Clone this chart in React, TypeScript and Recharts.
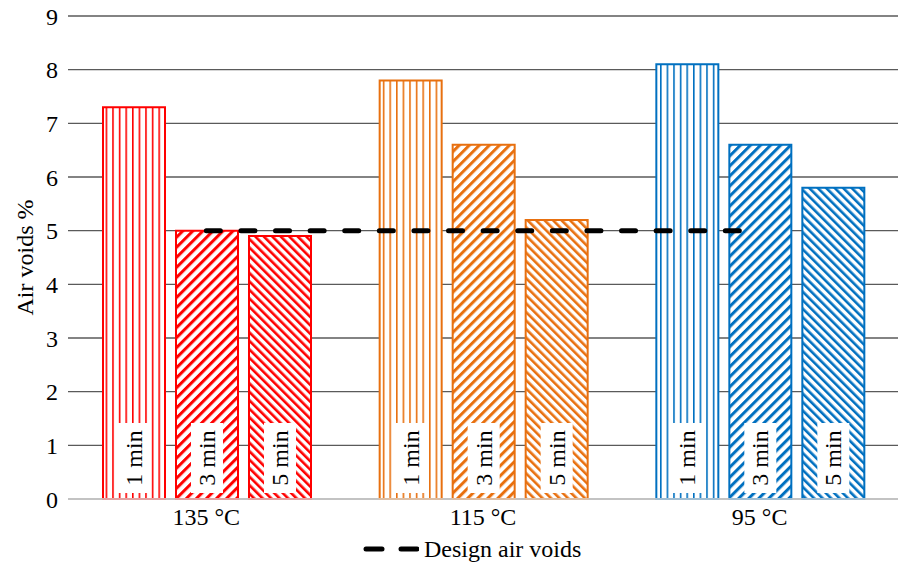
import React from 'react';
import {
  ComposedChart,
  Bar,
  Line,
  XAxis,
  YAxis,
  CartesianGrid,
  Legend,
  Label,
  LabelList,
  Cell,
} from 'recharts';

// values (air voids, %)
const categories = ['135 °C', '115 °C', '95 °C'];
const oneMin = [7.3, 7.8, 8.1];
const threeMin = [5.0, 6.6, 6.6];
const fiveMin = [4.9, 5.2, 5.8];
const designAirVoids = [5, 5, 5];
const durations = ['1 min', '3 min', '5 min'];
const yTicks = [0, 1, 2, 3, 4, 5, 6, 7, 8, 9];

const colors = ['#FF0000', '#E8700F', '#0070C0'];
const FONT = '"Liberation Serif", "Times New Roman", serif';
const FS = 24;

const data = categories.map((name, i) => ({
  name,
  min1: oneMin[i],
  min3: threeMin[i],
  min5: fiveMin[i],
  design: designAirVoids[i],
}));

// pattern ids: vert-0, up-1, down-2 ...
const Patterns = () => (
  <defs>
    {colors.map((c, i) => (
      <React.Fragment key={i}>
        <pattern id={`vert-${i}`} patternUnits="userSpaceOnUse" width={6.6} height={10}>
          <rect width={6.6} height={10} fill="#fff" />
          <rect x={0} width={1.6} height={10} fill={c} />
        </pattern>
        <pattern
          id={`up-${i}`}
          patternUnits="userSpaceOnUse"
          width={7.1}
          height={10}
          patternTransform="rotate(45)"
        >
          <rect width={7.1} height={10} fill="#fff" />
          <rect x={0} width={3} height={10} fill={c} />
        </pattern>
        <pattern
          id={`down-${i}`}
          patternUnits="userSpaceOnUse"
          width={6}
          height={10}
          patternTransform="rotate(-45)"
        >
          <rect width={6} height={10} fill="#fff" />
          <rect x={0} width={2.6} height={10} fill={c} />
        </pattern>
      </React.Fragment>
    ))}
  </defs>
);

const renderTag = (text: string) => (props: any) => {
  const { x, y, width, height } = props;
  const cx = Number(x) + Number(width) / 2;
  const base = Number(y) + Number(height);
  const ty = base - 41;
  return (
    <g>
      <rect x={cx - 16} y={base - 76} width={32} height={70} fill="#fff" />
      <text
        x={cx}
        y={ty}
        transform={`rotate(-90 ${cx} ${ty})`}
        textAnchor="middle"
        dominantBaseline="central"
        fontFamily={FONT}
        fontSize={FS}
        fill="#000"
      >
        {text}
      </text>
    </g>
  );
};

const renderLegend = (props: any) => {
  const items = (props.payload || []).filter((p: any) => p.dataKey === 'design');
  return (
    <div style={{ height: 30, display: 'flex', alignItems: 'center' }}>
      {items.map((p: any) => (
        <div key={p.value} style={{ display: 'flex', alignItems: 'center' }}>
          <svg width={56} height={10} style={{ marginRight: 5 }}>
            <line x1={3} y1={5} x2={19} y2={5} stroke="#000" strokeWidth={5} strokeLinecap="round" />
            <line x1={38} y1={5} x2={54} y2={5} stroke="#000" strokeWidth={5} strokeLinecap="round" />
          </svg>
          <span style={{ fontFamily: FONT, fontSize: FS, color: '#000' }}>{p.value}</span>
        </div>
      ))}
    </div>
  );
};

const seriesKeys = ['min1', 'min3', 'min5'];
const patternKinds = ['vert', 'up', 'down'];

export default function App() {
  return (
    <div style={{ position: 'absolute', left: 0, top: 0, width: 905, height: 566, background: '#fff' }}>
      <ComposedChart
        width={905}
        height={566}
        data={data}
        margin={{ top: 16, right: 7, left: 8, bottom: 0 }}
        barCategoryGap={35}
        barGap={11}
      >
        <Patterns />
        <CartesianGrid vertical={false} stroke="#5a5a5a" strokeWidth={1.4} />
        <XAxis
          dataKey="name"
          height={37}
          tickLine={false}
          tickSize={0}
          tickMargin={9}
          axisLine={{ stroke: '#d9d9d9', strokeWidth: 1.6 }}
          tick={{ fontFamily: FONT, fontSize: FS, fill: '#000' }}
        />
        <YAxis
          width={60}
          domain={[0, 9]}
          ticks={yTicks}
          interval={0}
          tickLine={false}
          axisLine={false}
          tickSize={0}
          tickMargin={10}
          tick={{ fontFamily: FONT, fontSize: FS, fill: '#000' }}
        >
          <Label
            content={(p: any) => {
              const vb = p.viewBox;
              const lx = vb.x + 17;
              const ly = vb.y + vb.height / 2;
              return (
                <text
                  x={lx}
                  y={ly}
                  transform={`rotate(-90 ${lx} ${ly})`}
                  textAnchor="middle"
                  dominantBaseline="central"
                  fontFamily={FONT}
                  fontSize={FS}
                  fill="#000"
                >
                  Air voids %
                </text>
              );
            }}
          />
        </YAxis>
        {seriesKeys.map((key, s) => (
          <Bar
            key={key}
            dataKey={key}
            name={durations[s]}
            legendType="none"
            strokeWidth={2}
            isAnimationActive={false}
          >
            {data.map((d, i) => (
              <Cell key={d.name} fill={`url(#${patternKinds[s]}-${i})`} stroke={colors[i]} />
            ))}
            <LabelList dataKey={key} content={renderTag(durations[s])} />
          </Bar>
        ))}
        <Line
          dataKey="design"
          name="Design air voids"
          stroke="#000"
          strokeWidth={5}
          strokeDasharray="14 20.6"
          strokeLinecap="round"
          dot={false}
          activeDot={false}
          isAnimationActive={false}
        />
        <Legend
          verticalAlign="bottom"
          content={renderLegend}
          wrapperStyle={{ left: 363, width: 260, bottom: 2 }}
        />
      </ComposedChart>
    </div>
  );
}
